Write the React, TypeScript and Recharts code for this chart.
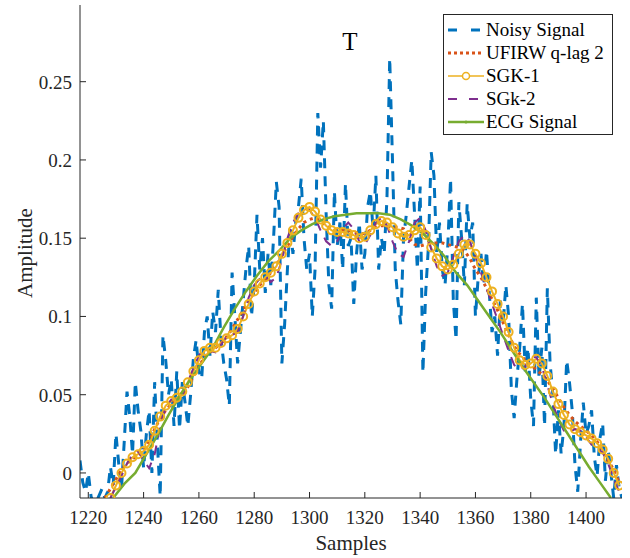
import { LineChart, Line, XAxis, YAxis } from "recharts";

const FONT = "'Liberation Serif', 'Times New Roman', serif";
const AXIS_COLOR = "#262626";
const PLOT_LEFT = 80;
const PLOT_BOTTOM = 498;

// noisy signal, one value per sample starting at 1217
const NOISY_START = 1217;
const NOISY = [
  0.008, -0.006, -0.012, 0.0, -0.015, -0.02, -0.018, -0.014, -0.01, -0.016,
  -0.012, 0.004, -0.008, 0.025, 0.006, -0.01, 0.02, 0.052, 0.036, 0.012,
  0.058, 0.04, 0.027, 0.003, 0.025, 0.04, 0.0, 0.058, 0.018, -0.015,
  0.088, 0.072, 0.05, 0.06, 0.03, 0.065, 0.028, 0.058, 0.045, 0.03,
  0.05, 0.073, 0.085, 0.065, 0.06, 0.09, 0.1, 0.075, 0.103, 0.09,
  0.117, 0.085, 0.07, 0.06, 0.043, 0.128, 0.1, 0.07, 0.09, 0.11,
  0.13, 0.145, 0.1, 0.12, 0.165, 0.13, 0.15, 0.115, 0.14, 0.12,
  0.15, 0.186, 0.17, 0.07, 0.095, 0.13, 0.158, 0.14, 0.16, 0.17,
  0.188, 0.15, 0.13, 0.14, 0.1, 0.13, 0.23, 0.195, 0.225, 0.166,
  0.12, 0.105, 0.18, 0.145, 0.16, 0.13, 0.185, 0.145, 0.15, 0.108,
  0.14, 0.16, 0.13, 0.14, 0.17, 0.18, 0.155, 0.19, 0.13, 0.15,
  0.14, 0.175, 0.265, 0.2, 0.13, 0.11, 0.095, 0.15, 0.165, 0.183,
  0.2, 0.165, 0.13, 0.183, 0.064, 0.115, 0.145, 0.205, 0.19, 0.14,
  0.16, 0.13, 0.12, 0.145, 0.188, 0.11, 0.085, 0.173, 0.15, 0.12,
  0.172, 0.15, 0.16, 0.1, 0.125, 0.14, 0.12, 0.142, 0.115, 0.09,
  0.1, 0.075, 0.11, 0.095, 0.12, 0.1, 0.053, 0.035, 0.06, 0.08,
  0.108, 0.065, 0.08, 0.047, 0.03, 0.112, 0.06, 0.08, 0.03, 0.118,
  0.07, 0.05, 0.012, 0.04, 0.012, 0.03, 0.072, 0.058, 0.04, 0.005,
  -0.012, 0.02, 0.045, 0.025, 0.03, 0.04, 0.01, -0.002, 0.022, 0.032,
  -0.005, 0.015, 0.0, -0.016, 0.005, -0.01, -0.016,
];

// UFIRW q-lag 2, every 2nd sample from 1226
const UFIRW_START = 1226;
const UFIRW = [
  -0.016, -0.01, -0.004, 0.002, 0.006, 0.009, 0.011, 0.014, 0.02, 0.028,
  0.035, 0.04, 0.044, 0.047, 0.05, 0.055, 0.062, 0.068, 0.074, 0.077,
  0.08, 0.083, 0.087, 0.092, 0.098, 0.104, 0.11, 0.115, 0.12, 0.124,
  0.128, 0.133, 0.139, 0.145, 0.151, 0.156, 0.16, 0.162, 0.163, 0.161,
  0.158, 0.156, 0.155, 0.155, 0.155, 0.154, 0.153, 0.153, 0.155, 0.157,
  0.158, 0.158, 0.157, 0.157, 0.156, 0.15, 0.146, 0.145, 0.146, 0.147,
  0.147, 0.147, 0.146, 0.145, 0.144, 0.142, 0.137, 0.13, 0.125, 0.118,
  0.111, 0.104, 0.096, 0.088, 0.081, 0.076, 0.072, 0.069, 0.066, 0.063,
  0.059, 0.054, 0.048, 0.042, 0.037, 0.033, 0.03, 0.027, 0.024, 0.02,
  0.014, 0.008, 0.002, -0.006,
];

// SGK-1, every 2nd sample from 1228
const SGK1_START = 1228;
const SGK1 = [
  -0.016, -0.008, 0.0, 0.006, 0.01, 0.012, 0.014, 0.018, 0.027, 0.036,
  0.043, 0.046, 0.048, 0.052, 0.058, 0.065, 0.072, 0.078, 0.08, 0.08,
  0.083, 0.086, 0.088, 0.092, 0.1, 0.108, 0.116, 0.121, 0.125, 0.128,
  0.132, 0.14, 0.147, 0.155, 0.163, 0.168, 0.17, 0.167, 0.162, 0.158,
  0.155, 0.154, 0.154, 0.153, 0.152, 0.15, 0.151, 0.155, 0.159, 0.161,
  0.16, 0.157, 0.153, 0.151, 0.152, 0.155, 0.157, 0.152, 0.144, 0.137,
  0.132, 0.13, 0.133, 0.14, 0.146, 0.146, 0.14, 0.134, 0.125, 0.116,
  0.108, 0.1, 0.09, 0.08, 0.072, 0.069, 0.07, 0.073, 0.07, 0.062,
  0.052, 0.044, 0.037, 0.031, 0.028, 0.026, 0.024, 0.022, 0.019, 0.015,
  0.009, 0.0, -0.008,
];

// SGk-2, every 2nd sample from 1228
const SGK2_START = 1228;
const SGK2 = [
  -0.016, -0.009, -0.002, 0.006, 0.012, 0.014, 0.008, 0.003, 0.012, 0.03,
  0.042, 0.047, 0.047, 0.05, 0.058, 0.067, 0.075, 0.08, 0.078, 0.077,
  0.082, 0.087, 0.088, 0.09, 0.1, 0.112, 0.12, 0.124, 0.126, 0.122,
  0.125, 0.136, 0.15, 0.16, 0.166, 0.169, 0.168, 0.163, 0.155, 0.148,
  0.145, 0.148, 0.156, 0.16, 0.156, 0.148, 0.146, 0.152, 0.16, 0.163,
  0.158, 0.148, 0.14, 0.138, 0.148, 0.16, 0.163, 0.155, 0.143, 0.132,
  0.126, 0.128, 0.138, 0.148, 0.152, 0.148, 0.138, 0.128, 0.118, 0.108,
  0.098, 0.088, 0.078, 0.069, 0.066, 0.068, 0.074, 0.074, 0.068, 0.056,
  0.044, 0.034, 0.027, 0.026, 0.028, 0.027, 0.023, 0.018, 0.016, 0.013,
  0.006, -0.004, -0.012,
];

// clean ECG, every 4th sample from 1229
const ECG_START = 1229;
const ECG = [
  -0.016, -0.007, 0.0, 0.012, 0.024, 0.037, 0.049, 0.06, 0.07, 0.08,
  0.093, 0.105, 0.116, 0.126, 0.135, 0.142, 0.15, 0.155, 0.159, 0.162,
  0.164, 0.165, 0.166, 0.166, 0.166, 0.165, 0.162, 0.158, 0.153, 0.146,
  0.138, 0.128, 0.12, 0.11, 0.1, 0.09, 0.079, 0.068, 0.058, 0.048,
  0.037, 0.026, 0.015, 0.004, -0.006, -0.016,
];

const X_TICKS = [1220, 1240, 1260, 1280, 1300, 1320, 1340, 1360, 1380, 1400];
const Y_TICKS = [0, 0.05, 0.1, 0.15, 0.2, 0.25];

const toPoints = (start: number, step: number, values: number[]) =>
  values.map((v, i) => ({ s: start + i * step, v }));

const noisyData = toPoints(NOISY_START, 1, NOISY);
const ufirwData = toPoints(UFIRW_START, 2, UFIRW);
const sgk1Data = toPoints(SGK1_START, 2, SGK1);
const sgk2Data = toPoints(SGK2_START, 2, SGK2);
const ecgData = toPoints(ECG_START, 4, ECG);

const XTick = (props: any) => {
  const { x, payload } = props;
  return (
    <g>
      <line x1={x} x2={x} y1={PLOT_BOTTOM} y2={PLOT_BOTTOM - 6} stroke={AXIS_COLOR} />
      <text x={x} y={524} textAnchor="middle" style={{ fontFamily: FONT, fontSize: 19 }} fill={AXIS_COLOR}>
        {payload.value}
      </text>
    </g>
  );
};

const YTick = (props: any) => {
  const { y, payload } = props;
  return (
    <g>
      <line x1={PLOT_LEFT} x2={PLOT_LEFT + 6} y1={y} y2={y} stroke={AXIS_COLOR} />
      <text x={72} y={y + 7} textAnchor="end" style={{ fontFamily: FONT, fontSize: 19 }} fill={AXIS_COLOR}>
        {String(payload.value)}
      </text>
    </g>
  );
};

const legendItems = [
  { name: "Noisy Signal", color: "#0072BD", dash: "9 14", width: 3, marker: "" },
  { name: "UFIRW q-lag 2", color: "#D95319", dash: "3 3", width: 3, marker: "" },
  { name: "SGK-1", color: "#EDB120", dash: "", width: 1.5, marker: "o" },
  { name: "SGk-2", color: "#7E2F8E", dash: "9 12", width: 2, marker: "" },
  { name: "ECG Signal", color: "#77AC30", dash: "", width: 2.5, marker: "." },
];

const LegendBox = () => (
  <div
    style={{
      position: "absolute",
      left: 443,
      top: 14,
      width: 168,
      height: 119,
      border: "1px solid #262626",
      background: "#fff",
      fontFamily: FONT,
      fontSize: 19,
      color: "#000",
    }}
  >
    {legendItems.map((it, i) => (
      <div
        key={i}
        style={{ position: "absolute", left: 3, top: 3 + i * 23, height: 23, display: "flex", alignItems: "center" }}
      >
        <svg width={38} height={23}>
          <line
            x1={1}
            x2={37}
            y1={12}
            y2={12}
            stroke={it.color}
            strokeWidth={it.width}
            strokeDasharray={it.dash || undefined}
          />
          {it.marker === "o" && <circle cx={19} cy={12} r={3.5} fill="#fff" stroke={it.color} strokeWidth={1.5} />}
          {it.marker === "." && <circle cx={19} cy={12} r={1.5} fill={it.color} />}
        </svg>
        <span style={{ marginLeft: 1, lineHeight: "23px" }}>{it.name}</span>
      </div>
    ))}
  </div>
);

export default function App() {
  return (
    <div style={{ position: "absolute", left: 0, top: 0, width: 630, height: 558, background: "#fff" }}>
      <LineChart width={630} height={558} margin={{ top: 5, right: 8, bottom: 0, left: 0 }}>
        <XAxis
          type="number"
          dataKey="s"
          domain={[1217, 1413]}
          ticks={X_TICKS}
          allowDataOverflow
          height={60}
          tickLine={false}
          tick={<XTick />}
          axisLine={{ stroke: AXIS_COLOR }}
        />
        <YAxis
          type="number"
          domain={[-0.016, 0.299]}
          ticks={Y_TICKS}
          allowDataOverflow
          width={80}
          tickLine={false}
          tick={<YTick />}
          axisLine={{ stroke: AXIS_COLOR }}
        />
        <Line
          data={noisyData}
          dataKey="v"
          stroke="#0072BD"
          strokeWidth={3}
          strokeDasharray="10 8"
          dot={false}
          isAnimationActive={false}
        />
        <Line
          data={ufirwData}
          dataKey="v"
          stroke="#D95319"
          strokeWidth={3}
          strokeDasharray="3 4"
          dot={false}
          isAnimationActive={false}
        />
        <Line
          data={sgk1Data}
          dataKey="v"
          stroke="#EDB120"
          strokeWidth={2}
          dot={{ r: 4, stroke: "#EDB120", strokeWidth: 2, fill: "none" }}
          isAnimationActive={false}
        />
        <Line
          data={sgk2Data}
          dataKey="v"
          stroke="#7E2F8E"
          strokeWidth={2}
          strokeDasharray="10 8"
          dot={false}
          isAnimationActive={false}
        />
        <Line
          data={ecgData}
          dataKey="v"
          stroke="#77AC30"
          strokeWidth={2.5}
          dot={false}
          isAnimationActive={false}
        />
      </LineChart>
      <LegendBox />
      <div
        style={{
          position: "absolute",
          left: 340,
          top: 28,
          width: 20,
          textAlign: "center",
          fontFamily: FONT,
          fontSize: 25,
          lineHeight: "28px",
          color: "#000",
        }}
      >
        T
      </div>
      <div
        style={{
          position: "absolute",
          left: 25,
          top: 253,
          transform: "translate(-50%, -50%) rotate(-90deg)",
          fontFamily: FONT,
          fontSize: 21,
          color: AXIS_COLOR,
          whiteSpace: "nowrap",
        }}
      >
        Amplitude
      </div>
      <div
        style={{
          position: "absolute",
          left: 351,
          top: 543,
          transform: "translate(-50%, -50%)",
          fontFamily: FONT,
          fontSize: 21,
          color: AXIS_COLOR,
          whiteSpace: "nowrap",
        }}
      >
        Samples
      </div>
    </div>
  );
}
